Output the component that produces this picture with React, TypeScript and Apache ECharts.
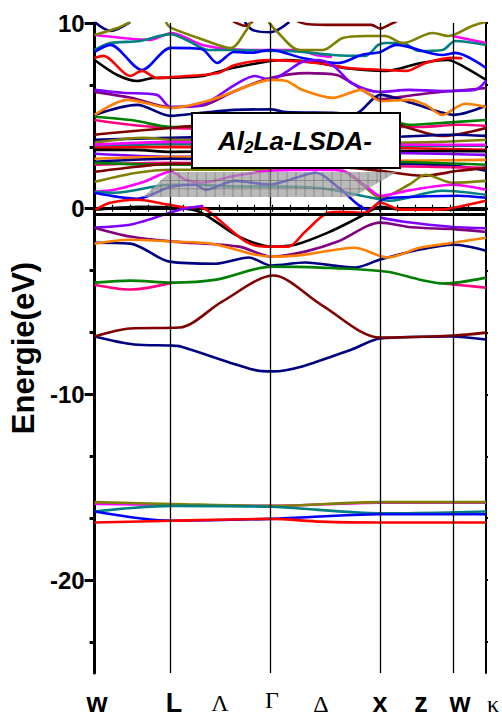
import React, { useEffect, useRef } from "react";
import * as echarts from "echarts";

// Origin-like palette
const BLACK = "#000000", RED = "#FF0000", BLUE = "#0000FF", MAGENTA = "#FF00FF", OLIVE = "#808000",
  NAVY = "#000080", PURPLE = "#800080", MAROON = "#800000", TEAL = "#008080", GREEN = "#008000",
  ORANGE = "#FF8000", VIOLET = "#8000FF", PINK = "#FF0080";

// k-path positions of high-symmetry points: W=0, L=77, Γ=178, X=289, W=363, K=396
const kMin = 0;
const kMax = 396;
const symmetryLines = [77, 178, 289, 363];
const fermiLevel = -0.32;
const eMin = -25;
const eMax = 10;
const yLabelValues = [-20, -10, 0, 10];
const yMinorTicks = [6.667, 3.333, -3.333, -6.667, -13.333, -16.667, -23.333];
const kPointLabels = ["w", "L", "Λ", "Γ", "Δ", "x", "z", "w", "κ"];

// ---- conduction bands (E in eV vs k) ----
const cNavyTop1 = [[0, 10.05], [16, 9.57], [36, 10.05]];
const cNavyTop2 = [[152, 10.05], [160, 9.62], [178, 9.5], [197, 10.05]];
const cOliveTop1 = [[0, 9.35], [23, 9.73], [36, 10.05]];
const cOliveTop2 = [[72, 10.05], [77, 9.75], [110, 9.1], [138, 8.65], [153, 9.57], [158, 10.05]];
const cOliveTop3 = [[176, 10.05], [184, 9.57], [207, 8.55], [231, 8.55], [251, 9.19], [275, 9.3], [294, 9.3], [312, 8.92], [342, 9.46], [358, 9.3], [382, 9.84], [396, 10.05]];
const cMaroonTop1 = [[140, 10.1], [152, 9.85], [160, 10.1]];
const cMaroonTop2 = [[205, 10.1], [214, 9.95], [245, 9.9], [280, 9.9], [289, 9.7], [298, 9.9], [306, 10.1]];
const cMagentaTop1 = [[0, 9.35], [29, 9.19], [56, 9.09], [78, 9.46], [110, 8.8], [155, 8.55], [178, 8.55], [207, 8.55], [224, 8.28], [240, 8.17]];
const cMagentaTop2 = [[362, 9.3], [396, 8.92]];
const cTealTop = [[0, 8.55], [16, 8.92], [46, 9.03], [77, 9.4], [95, 9.03], [115, 8.55], [138, 8.55], [178, 8.5], [194, 8.5], [241, 8.28], [274, 8.23], [287, 8.82], [294, 8.92], [312, 8.92], [328, 8.49], [352, 8.55], [365, 9.03], [396, 8.82]];
const cBlueTop = [[0, 8.44], [16, 8.82], [48, 7.47], [77, 8.66], [108, 8.6], [124, 7.85], [141, 8.44], [160, 8.4], [178, 8.55], [210, 8.12], [247, 7.85], [270, 8.28], [289, 8.44], [305, 8.82], [352, 8.28], [365, 8.39], [396, 7.58]];
const cRedTop = [[0, 8.12], [9, 8.23], [36, 7.15], [48, 7.42], [63, 7.04], [82, 7.1], [125, 7.31], [142, 7.74], [178, 8.0], [224, 7.85], [257, 7.58], [294, 7.47], [315, 7.42], [335, 7.85], [362, 8.12], [372, 8.1]];
const cBlackTop = [[0, 8.01], [23, 7.2], [43, 6.88], [59, 7.04], [77, 7.05], [110, 7.15], [128, 7.42], [142, 7.6], [178, 7.95], [194, 8.01], [227, 7.85], [257, 7.55], [294, 7.42], [330, 7.85], [357, 8.01], [375, 7.6], [396, 6.94]];
const cViolet = [[0, 6.4], [29, 6.24], [63, 6.13], [77, 5.48], [108, 5.59], [142, 6.67], [162, 7.15], [178, 6.94], [195, 7.4], [210, 7.9], [227, 8.01], [243, 7.63], [260, 6.77], [289, 6.29], [318, 6.4], [352, 6.34], [385, 6.4], [396, 6.88]];
const cPurple = [[0, 6.29], [37, 5.97], [77, 5.48], [108, 5.54], [142, 6.34], [178, 7.04], [215, 7.3], [245, 7.2], [260, 6.77], [277, 6.2], [289, 5.9], [320, 6.1], [352, 6.3], [363, 6.34], [396, 6.5]];
const cOrangeTop = [[0, 5.05], [33, 5.86], [77, 5.43], [120, 5.9], [160, 6.7], [178, 6.94], [194, 6.88], [210, 6.4], [241, 5.97], [270, 6.4], [289, 5.8], [318, 5.86], [335, 5.59], [352, 5.05], [365, 5.43], [375, 5.65], [396, 5.48]];
const cNavyUp = [[0, 5.05], [43, 5.59], [77, 5.0], [108, 5.16], [142, 5.32], [178, 5.35], [194, 5.2], [241, 5.16], [263, 5.1], [289, 6.13], [320, 5.7], [350, 5.2], [363, 5.05], [396, 5.54]];
const cGreenUp = [[0, 4.95], [40, 4.75], [77, 4.4], [110, 4.46], [178, 4.6], [240, 4.7], [289, 4.89], [318, 4.52], [352, 4.62], [396, 4.78]];
const cPinkUp = [[0, 4.78], [36, 4.52], [78, 4.35], [110, 4.3], [178, 4.2], [240, 4.3], [289, 4.4], [330, 4.4], [368, 4.52], [396, 4.46]];
const cMaroonUp = [[0, 3.98], [20, 4.09], [77, 4.35], [110, 4.5], [178, 4.7], [240, 4.8], [285, 4.89], [318, 4.35], [352, 3.92], [396, 4.35]];
const cNavyB = [[0, 3.71], [77, 3.82], [178, 3.9], [289, 3.85], [363, 3.98], [396, 3.92]];
const cOliveB = [[0, 3.55], [50, 3.82], [77, 3.71], [178, 3.6], [289, 3.55], [352, 3.6], [396, 3.71]];
const cTealB = [[0, 3.33], [77, 3.49], [178, 3.45], [289, 3.39], [396, 3.39]];
const cMagentaB = [[0, 3.45], [20, 3.5], [77, 3.6], [178, 3.5], [289, 3.45], [396, 3.44]];
const cRedB = [[0, 3.28], [77, 3.33], [178, 3.3], [289, 3.28], [396, 3.17]];
const cBlackB = [[0, 3.17], [40, 3.17], [77, 3.06], [178, 3.1], [289, 3.1], [396, 3.1]];
const cVioletB = [[0, 2.96], [77, 2.8], [178, 2.85], [289, 3.0], [396, 2.9]];
const cOrangeB = [[0, 2.69], [77, 2.8], [178, 2.7], [289, 2.58], [396, 2.63]];
const cNavyC = [[0, 2.53], [77, 2.69], [178, 2.6], [289, 2.45], [363, 2.31], [396, 2.04]];
const cGreenC = [[0, 2.47], [77, 2.37], [178, 2.4], [289, 2.53], [396, 2.37]];
const cPinkC = [[0, 2.37], [77, 2.47], [178, 2.4], [289, 2.3], [396, 2.2]];
const cMaroonC = [[0, 1.99], [43, 2.26], [77, 2.42], [178, 2.4], [260, 2.2], [289, 2.04], [332, 1.77], [368, 2.04], [396, 2.2]];
const cOliveC = [[0, 1.45], [43, 1.94], [77, 2.1], [130, 2.1], [178, 2.1], [224, 2.2], [251, 2.04], [271, 1.29], [289, 0.6], [318, 1.29], [335, 1.83], [362, 1.4], [396, 1.5]];
const cMagentaC = [[0, 0.91], [20, 1.02], [50, 1.45], [77, 1.99], [92, 1.56], [108, 1.4], [142, 1.77], [178, 2.04], [224, 2.1], [251, 2.04], [274, 1.24], [289, 0.7], [320, 1.0], [362, 1.29], [396, 1.02]];
const cTealC = [[0, 0.91], [20, 0.86], [77, 1.29], [102, 1.29], [140, 1.2], [178, 1.2], [230, 1.1], [270, 0.7], [289, 0.5], [298, 0.43], [352, 0.97], [396, 0.75]];
const cBlueC = [[0, 0.86], [43, 0.54], [77, 1.18], [102, 1.29], [112, 1.02], [142, 1.5], [178, 1.3], [194, 1.5], [224, 1.94], [247, 1.13], [277, -0.05], [291, 0.48], [300, 0.59], [368, 0.7], [396, 0.59]];

// ---- valence bands ----
const vBlack = [[0, -0.05], [46, 0.1], [79, 0.05], [106, -0.16], [146, -1.5], [179, -2.04], [203, -1.94], [236, -1.29], [269, -0.43], [289, 0.1], [310, -0.05], [363, -0.05], [396, -0.05]];
const vRed = [[1, -0.05], [16, 0.32], [43, 0.48], [76, 0.21], [96, 0.05], [106, 0.1], [116, -0.16], [153, -1.77], [173, -2.04], [196, -2.04], [213, -1.24], [236, -0.22], [249, -0.16], [273, -0.22], [289, 0.32], [310, -0.05], [350, -0.05], [363, 0.05], [396, 0.43]];
const vViolet1 = [[0, -1.02], [36, -0.86], [60, -0.5], [79, -0.16], [96, 0.05], [110, 0.15]];
const vViolet2 = [[289, -0.48], [313, -0.7], [360, -0.97], [396, -1.05]];
const vPurple = [[0, -1.02], [36, -1.5], [79, -1.77], [146, -2.04], [179, -2.58], [213, -2.31], [246, -1.77], [289, -0.75], [320, -1.0], [363, -1.1], [396, -1.25]];
const vOrange = [[0, -1.88], [36, -1.67], [79, -1.77], [120, -1.9], [160, -2.45], [181, -2.58], [213, -2.47], [263, -2.1], [289, -2.55], [296, -2.63], [329, -2.1], [363, -1.83], [396, -1.56]];
const vNavy = [[0, -1.83], [36, -1.88], [76, -2.85], [123, -2.96], [156, -2.63], [179, -3.06], [213, -2.9], [263, -3.17], [289, -2.74], [329, -2.2], [363, -1.94], [396, -2.26]];
const vGreen = [[0, -3.98], [36, -3.87], [79, -3.98], [123, -3.82], [179, -3.12], [229, -3.17], [296, -3.39], [329, -3.82], [353, -4.03], [396, -3.71]];
const vPink1 = [[0, -4.09], [36, -4.35], [79, -3.98]];
const vPink2 = [[353, -4.03], [396, -4.25]];
const vMaroon = [[0, -6.88], [36, -6.45], [86, -6.4], [129, -5.0], [181, -3.6], [229, -5.16], [289, -6.94], [363, -6.83], [396, -6.67]];
const vNavy2 = [[0, -6.88], [40, -7.31], [77, -7.37], [87, -7.42], [160, -8.66], [180, -8.76], [210, -8.49], [260, -7.58], [289, -6.99], [360, -6.88], [396, -7.04]];

// ---- deep (semicore) bands ----
const dMagenta = [[0, -15.9], [79, -15.95], [179, -16.0], [289, -15.83], [396, -15.83]];
const dOlive = [[0, -15.8], [79, -15.9], [179, -16.0], [289, -15.8], [396, -15.8]];
const dTeal = [[0, -16.3], [79, -16.0], [179, -16.05], [289, -16.4], [363, -16.35], [396, -16.3]];
const dBlue = [[0, -16.3], [79, -16.8], [179, -16.7], [289, -16.45], [396, -16.45]];
const dRed = [[0, -16.9], [79, -16.8], [179, -16.7], [229, -16.85], [289, -16.9], [396, -16.9]];

const BANDS: { c: string; d: number[][] }[] = [
  { c: NAVY, d: cNavyTop1 }, { c: NAVY, d: cNavyTop2 },
  { c: MAROON, d: cMaroonTop1 }, { c: MAROON, d: cMaroonTop2 },
  { c: MAGENTA, d: cMagentaTop1 }, { c: MAGENTA, d: cMagentaTop2 },
  { c: TEAL, d: cTealTop }, { c: BLUE, d: cBlueTop },
  { c: OLIVE, d: cOliveTop1 }, { c: OLIVE, d: cOliveTop2 }, { c: OLIVE, d: cOliveTop3 },
  { c: BLACK, d: cBlackTop }, { c: RED, d: cRedTop },
  { c: PURPLE, d: cPurple }, { c: VIOLET, d: cViolet },
  { c: NAVY, d: cNavyUp }, { c: ORANGE, d: cOrangeTop },
  { c: PINK, d: cPinkUp }, { c: GREEN, d: cGreenUp }, { c: MAROON, d: cMaroonUp },
  { c: NAVY, d: cNavyB }, { c: OLIVE, d: cOliveB }, { c: TEAL, d: cTealB }, { c: MAGENTA, d: cMagentaB },
  { c: RED, d: cRedB }, { c: BLACK, d: cBlackB }, { c: VIOLET, d: cVioletB }, { c: ORANGE, d: cOrangeB },
  { c: NAVY, d: cNavyC }, { c: PINK, d: cPinkC }, { c: GREEN, d: cGreenC }, { c: MAROON, d: cMaroonC },
  { c: OLIVE, d: cOliveC }, { c: MAGENTA, d: cMagentaC }, { c: TEAL, d: cTealC }, { c: BLUE, d: cBlueC },
  { c: BLACK, d: vBlack }, { c: RED, d: vRed },
  { c: VIOLET, d: vViolet1 }, { c: VIOLET, d: vViolet2 }, { c: PURPLE, d: vPurple },
  { c: NAVY, d: vNavy }, { c: ORANGE, d: vOrange },
  { c: PINK, d: vPink1 }, { c: PINK, d: vPink2 }, { c: GREEN, d: vGreen },
  { c: NAVY, d: vNavy2 }, { c: MAROON, d: vMaroon },
  { c: MAGENTA, d: dMagenta }, { c: OLIVE, d: dOlive }, { c: TEAL, d: dTeal }, { c: BLUE, d: dBlue }, { c: RED, d: dRed },
];

// layout for the k-point labels under the axis (pixels; y is the bottom of the text box)
const kLabelLayout = [
  { x: 97, y: 716, greek: false }, { x: 174, y: 716, greek: false }, { x: 220, y: 715, greek: true },
  { x: 272, y: 712, greek: true }, { x: 321, y: 716, greek: true }, { x: 380, y: 716, greek: false },
  { x: 421, y: 716, greek: false }, { x: 460, y: 716, greek: false }, { x: 493, y: 716, greek: true },
];

function hatchLines() {
  const els: any[] = [];
  const top = 172, bot = 197;
  const stroke = "rgba(95,95,95,0.7)";
  // left edge (143,197)-(170,172), right edge (353,197)-(397,172)
  for (let x = 152; x < 397; x += 9) {
    let y1 = top, y2 = bot;
    if (x < 170) y1 = 197 - ((x - 143) * 25) / 27;
    if (x > 353) y2 = Math.min(bot, 172 + ((397 - x) * 25) / 44);
    if (y2 > y1) els.push({ type: "line", shape: { x1: x, y1, x2: x, y2 }, style: { stroke, lineWidth: 0.7 }, z: 101, silent: true });
  }
  for (let y = 180.5; y < 197; y += 8.3) {
    const xl = 143 + ((197 - y) * 27) / 25;
    const xr = 353 + ((197 - y) * 44) / 25;
    els.push({ type: "line", shape: { x1: xl, y1: y, x2: xr, y2: y }, style: { stroke, lineWidth: 0.7 }, z: 101, silent: true });
  }
  return els;
}

export default function App() {
  const ref = useRef<HTMLDivElement>(null);
  useEffect(() => {
    document.body.style.margin = "0";
    const chart = echarts.init(ref.current!, undefined, { renderer: "svg" });

    const series: any[] = [
      {
        type: "line", data: [[0, fermiLevel]], symbol: "none", lineStyle: { width: 0 }, z: 1, silent: true,
        markLine: {
          silent: true, symbol: ["none", "none"], label: { show: false },
          lineStyle: { color: "#000", width: 1.3, type: "solid" },
          data: symmetryLines.map((v) => ({ xAxis: v })),
        },
      },
      ...BANDS.map((b) => ({
        type: "line", data: b.d, symbol: "none", showSymbol: false, smooth: 0.3, silent: true, z: 3,
        lineStyle: { color: b.c, width: 2.6 }, itemStyle: { color: b.c },
      })),
      {
        type: "line", data: [[0, fermiLevel]], symbol: "none", lineStyle: { width: 0 }, z: 6, silent: true,
        markLine: {
          silent: true, symbol: ["none", "none"], label: { show: false },
          lineStyle: { color: "#000", width: 3, type: "solid" },
          data: [{ yAxis: fermiLevel }],
        },
      },
    ];

    const option: any = {
      animation: false,
      backgroundColor: "#fff",
      grid: { left: 90, right: 16, top: 23, bottom: 44 },
      xAxis: [
        {
          type: "value", min: kMin, max: kMax, interval: 18, position: "bottom",
          axisLine: { show: true, lineStyle: { color: "#000", width: 3 } },
          axisTick: { show: true, inside: true, length: 4, lineStyle: { color: "#000", width: 1.2 } },
          axisLabel: { show: false }, splitLine: { show: false },
        },
        {
          type: "value", min: kMin, max: kMax, interval: 18, position: "top",
          axisLine: { show: true, lineStyle: { color: "#000", width: 3 } },
          axisTick: { show: true, inside: true, length: 3, lineStyle: { color: "#000", width: 1 } },
          axisLabel: { show: false }, splitLine: { show: false },
        },
      ],
      yAxis: [
        {
          type: "value", min: eMin, max: eMax, position: "left",
          axisLine: { show: true, lineStyle: { color: "#000", width: 3 } },
          axisTick: { show: true, customValues: yLabelValues, length: 10, lineStyle: { color: "#000", width: 3 } },
          axisLabel: {
            show: true, customValues: yLabelValues, margin: 10, color: "#000",
            fontFamily: "Liberation Sans", fontWeight: "bold", fontSize: 24,
          },
          splitLine: { show: false },
          name: "Energie(eV)", nameLocation: "middle", nameGap: 52,
          nameTextStyle: { fontFamily: "Liberation Sans", fontWeight: "bold", fontSize: 31, color: "#000" },
        },
        {
          type: "value", min: eMin, max: eMax, position: "left",
          axisLine: { show: false },
          axisTick: { show: true, customValues: yMinorTicks, length: 5, lineStyle: { color: "#000", width: 3 } },
          axisLabel: { show: false }, splitLine: { show: false },
        },
        {
          type: "value", min: eMin, max: eMax, position: "right",
          axisLine: { show: true, lineStyle: { color: "#000", width: 2 } },
          axisTick: { show: true, customValues: [...yLabelValues, ...yMinorTicks], length: 2, lineStyle: { color: "#000", width: 2 } },
          axisLabel: { show: false }, splitLine: { show: false },
        },
      ],
      series,
      graphic: [
        {
          type: "polygon", z: 100, silent: true,
          shape: { points: [[143, 197], [170, 172], [397, 172], [353, 197]] },
          style: { fill: "rgba(160,160,160,0.72)" },
        },
        ...hatchLines(),
        {
          type: "rect", z: 110, silent: true,
          shape: { x: 192, y: 113, width: 208, height: 55 },
          style: { fill: "#fff", stroke: "#000", lineWidth: 2 },
        },
        {
          type: "text", z: 111, silent: true,
          style: {
            x: 295, y: 141, align: "center", verticalAlign: "middle",
            text: "{a|Al}{s|2}{a|La-LSDA-}",
            rich: {
              a: { fontFamily: "Liberation Sans", fontWeight: "bold", fontStyle: "italic", fontSize: 26, lineHeight: 30, fill: "#000" },
              s: { fontFamily: "Liberation Sans", fontWeight: "bold", fontStyle: "italic", fontSize: 17, lineHeight: 14, verticalAlign: "bottom", fill: "#000" },
            },
          },
        },
        ...kPointLabels.map((t, i) => ({
          type: "text", z: 120, silent: true,
          style: {
            x: kLabelLayout[i].x, y: kLabelLayout[i].y, text: t, align: "center", verticalAlign: "bottom",
            fill: "#000",
            fontFamily: kLabelLayout[i].greek ? "Liberation Serif" : "Liberation Sans",
            fontWeight: kLabelLayout[i].greek ? "normal" : "bold",
            fontSize: kLabelLayout[i].greek ? 24 : 27,
          },
        })),
      ],
    };
    chart.setOption(option);
    return () => chart.dispose();
  }, []);
  return <div ref={ref} style={{ width: 502, height: 717 }} />;
}
